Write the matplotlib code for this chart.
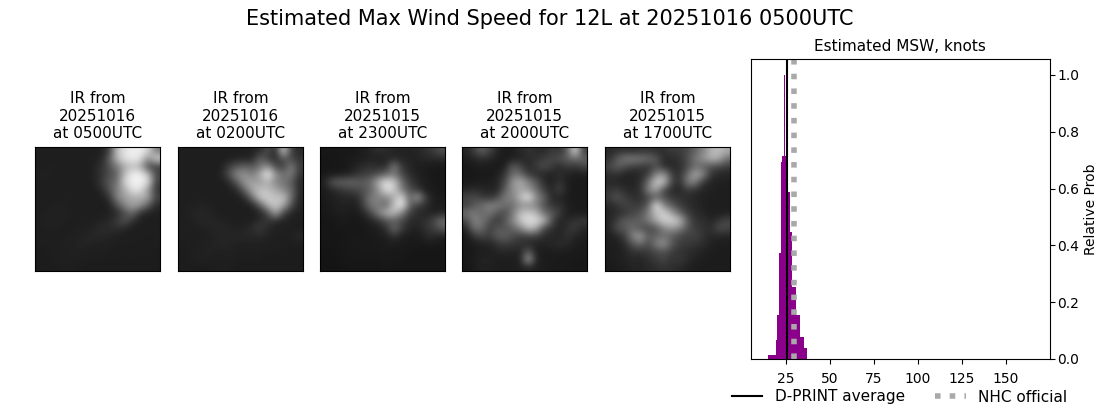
import numpy as np
import matplotlib
matplotlib.use("Agg")
import matplotlib.pyplot as plt

panel_titles = ["IR from\n20251016\nat 0500UTC", "IR from\n20251016\nat 0200UTC", "IR from\n20251015\nat 2300UTC",
                "IR from\n20251015\nat 2000UTC", "IR from\n20251015\nat 1700UTC"]

ir_1 = [[30,30,30,30,30,30,30,30,32,60,190,228,238,238,215,120],
        [30,30,30,30,30,30,30,32,36,90,185,225,238,225,140,215],
        [30,30,32,30,30,30,30,34,50,80,120,170,190,170,70,60],
        [32,34,30,30,30,30,30,34,50,75,100,190,240,242,190,70],
        [30,30,30,30,30,30,30,32,55,90,110,215,242,242,225,60],
        [30,30,30,30,30,30,30,30,40,80,130,170,230,225,150,50],
        [30,30,30,30,32,30,30,30,30,50,130,160,170,175,165,65],
        [30,30,32,32,30,30,30,30,30,32,80,135,165,150,90,40],
        [30,32,34,34,32,30,30,30,30,32,40,75,110,45,34,32],
        [30,34,34,32,30,30,30,32,34,40,60,85,48,32,30,30],
        [30,32,32,30,30,32,32,36,44,42,48,36,30,30,30,30],
        [30,30,30,30,32,34,36,40,38,36,32,30,30,30,30,30],
        [30,30,30,32,34,34,36,34,32,32,30,30,30,30,28,30],
        [28,30,30,30,32,34,32,30,32,30,28,30,28,30,30,28],
        [28,28,30,32,32,30,30,30,30,28,30,28,30,28,28,28],
        [28,28,28,30,30,30,28,28,28,28,28,28,28,28,28,28]]
ir_2 = [[30,30,30,30,30,30,30,30,30,34,40,80,36,210,60,40],
        [30,30,30,30,30,30,30,34,36,34,100,60,40,90,70,50],
        [30,30,30,30,30,30,60,85,95,90,110,150,70,60,130,60],
        [30,30,30,30,30,34,80,135,150,120,170,245,150,110,130,50],
        [30,30,30,30,30,30,40,90,150,165,150,180,130,120,90,40],
        [30,30,30,30,30,30,30,40,100,170,195,185,170,130,110,40],
        [30,30,30,30,30,30,30,30,40,110,200,210,190,200,110,36],
        [30,32,34,36,30,30,30,30,30,34,90,180,205,170,80,34],
        [30,34,38,36,34,30,30,30,30,30,34,70,170,70,36,32],
        [30,32,36,40,36,34,32,30,30,32,44,55,42,34,32,30],
        [30,30,32,34,36,38,36,34,36,44,60,40,32,32,30,30],
        [30,30,30,32,34,36,38,36,40,38,40,34,32,30,32,42],
        [30,30,30,32,34,38,36,34,32,34,32,32,30,30,30,30],
        [28,30,32,36,34,32,34,32,30,32,30,30,30,30,28,28],
        [28,30,32,32,30,30,32,30,30,30,30,28,28,28,28,28],
        [28,28,28,28,30,30,30,28,28,28,28,28,28,28,28,28]]
ir_3 = [[24,24,24,24,24,30,36,48,44,36,34,34,38,46,60,80],
        [22,22,24,26,28,30,34,30,34,40,36,34,34,40,40,42],
        [22,24,24,26,34,44,50,44,46,130,52,40,30,28,26,24],
        [24,24,26,30,46,60,64,80,100,120,70,44,32,28,24,24],
        [32,85,100,105,100,90,110,175,225,200,110,60,40,30,26,24],
        [26,40,50,60,70,80,95,150,230,205,120,80,50,30,26,24],
        [26,30,36,40,36,70,125,130,135,170,225,90,170,60,30,28],
        [24,30,34,34,30,60,120,125,100,200,240,100,60,50,30,28],
        [24,26,30,30,26,36,70,130,180,190,130,60,44,34,32,36],
        [22,24,26,26,24,26,34,50,80,90,70,44,40,48,70,110],
        [22,22,24,24,24,24,28,32,50,110,60,36,34,50,60,90],
        [22,22,22,24,26,24,26,28,30,50,30,28,26,40,44,30],
        [22,22,24,24,26,24,26,26,28,30,26,26,26,24,28,24],
        [20,22,22,24,24,26,24,26,26,24,26,24,22,22,22,22],
        [20,20,22,24,24,24,24,24,26,24,24,22,22,22,22,22],
        [20,20,20,22,22,22,22,22,24,22,22,22,22,22,22,22]]
ir_4 = [[36,60,100,70,40,26,30,40,50,44,40,56,50,90,225,60],
        [28,36,44,40,30,26,30,36,44,48,60,70,80,95,110,100],
        [24,26,30,28,26,30,95,70,36,60,80,60,40,60,50,70],
        [24,24,26,24,30,55,110,105,60,44,36,34,44,34,30,30],
        [26,26,28,30,36,70,150,175,130,90,44,32,50,30,26,26],
        [36,44,40,36,34,95,140,165,150,110,60,36,70,30,26,26],
        [70,75,60,50,70,125,130,190,240,140,100,40,36,28,26,26],
        [60,85,110,130,130,110,110,140,135,130,80,50,50,32,28,28],
        [110,125,100,120,85,70,120,190,205,180,110,90,60,30,30,26],
        [70,130,120,85,50,90,135,200,225,220,190,80,34,40,50,60],
        [36,110,110,60,90,80,100,130,190,170,70,50,34,50,60,36],
        [24,50,70,60,90,100,75,60,60,60,44,36,36,50,36,30],
        [24,28,34,36,50,60,55,50,40,36,34,40,44,40,30,26],
        [24,26,30,30,36,40,36,36,90,30,28,28,30,28,26,26],
        [24,28,36,36,28,30,30,34,170,36,28,28,26,26,26,24],
        [22,26,34,32,30,28,30,30,36,30,30,26,26,26,24,24]]
ir_5 = [[40,44,46,40,48,50,44,48,60,60,70,100,130,180,190,170],
        [44,90,120,130,120,110,90,40,44,50,80,120,150,180,170,110],
        [70,95,80,60,60,50,80,44,40,44,70,110,90,80,70,60],
        [44,50,36,34,40,60,130,150,60,46,110,170,140,50,40,36],
        [40,36,34,36,44,110,205,200,70,44,130,130,50,36,34,32],
        [50,60,44,36,50,130,170,70,40,36,60,48,36,34,30,30],
        [60,85,60,50,44,70,90,80,55,50,44,36,34,30,30,30],
        [40,50,70,60,60,90,238,130,90,60,46,40,32,30,30,30],
        [34,44,50,70,80,130,190,215,160,100,60,44,36,30,30,32],
        [36,60,95,90,100,120,170,210,215,190,90,50,50,36,55,70],
        [34,80,85,110,80,70,80,130,150,130,80,60,50,44,80,70],
        [30,36,60,130,165,90,100,110,90,70,60,70,50,40,36,34],
        [30,30,44,80,110,70,130,150,90,60,60,50,44,32,30,30],
        [28,30,34,50,50,60,70,80,60,50,44,40,34,30,28,28],
        [28,30,36,40,36,46,60,70,50,60,44,34,30,28,28,28],
        [26,28,30,36,36,40,44,50,46,40,32,30,28,28,28,28]]
ir_fields = [ir_1, ir_2, ir_3, ir_4, ir_5]
panel_left_px = [35, 178, 320, 462, 605]

bin_edges = [14.93, 19.47, 20.04, 21.18, 22.31, 22.88, 24.01, 24.58, 26.09, 27.42, 28.55, 30.82, 33.09, 35.36, 37.07]
rel_prob = [0.014, 0.067, 0.155, 0.373, 0.695, 0.715, 1.0, 0.715, 0.588, 0.447, 0.253, 0.155, 0.077, 0.039]
dprint_avg = 25.55
nhc_official = 29.5
hist_ticks = [25, 50, 75, 100, 125, 150]
prob_ticks = [0.0, 0.2, 0.4, 0.6, 0.8, 1.0]

W, H = 1100, 409
fig = plt.figure(figsize=(W / 100, H / 100), dpi=100)
fig.suptitle("Estimated Max Wind Speed for 12L at 20251016 0500UTC", fontsize=15, x=0.5, y=0.977)

for title, field, lpx in zip(panel_titles, ir_fields, panel_left_px):
    ax = fig.add_axes([lpx / W, 1 - 271 / H, 125 / W, 124 / H])
    ax.imshow(np.array(field, dtype=float), cmap="gray", vmin=0, vmax=255,
              interpolation="bicubic", aspect="auto")
    ax.set_xticks([])
    ax.set_yticks([])
    ax.set_title(title, fontsize=11, pad=6.5)

ax = fig.add_axes([750.5 / W, 1 - 359 / H, 299.5 / W, 300 / H])
edges = np.array(bin_edges)
ax.bar(edges[:-1], rel_prob, width=np.diff(edges), align="edge", color="darkmagenta", linewidth=0)
l1 = ax.axvline(dprint_avg, color="black", lw=1.5, label="D-PRINT average")
l2 = ax.axvline(nhc_official, color="darkgray", lw=4, ls=":", label="NHC official")
ax.set_xlim(5, 175)
ax.set_ylim(0, 1.056)
ax.set_xticks(hist_ticks)
ax.set_yticks(prob_ticks)
ax.yaxis.tick_right()
ax.yaxis.set_label_position("right")
ax.set_ylabel("Relative Prob", fontsize=10, labelpad=3.5)
ax.tick_params(labelsize=10)
ax.tick_params(axis="x", pad=6)
ax.tick_params(axis="y", pad=1.5)
ax.set_title("Estimated MSW, knots", fontsize=11, pad=6)

fig.legend(handles=[l1, l2], ncol=2, fontsize=11, frameon=False,
           loc="center", bbox_to_anchor=(899.5 / W, 1 - 397 / H))
fig.savefig("out.png", dpi=100)
